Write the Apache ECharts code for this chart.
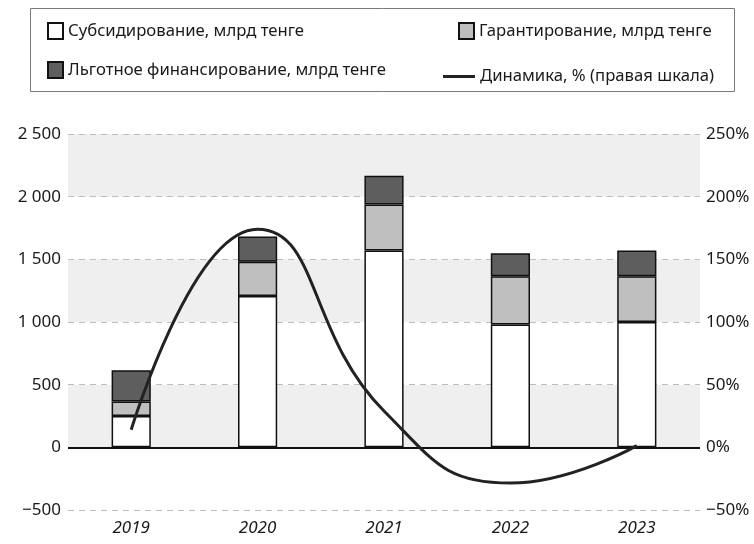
<!DOCTYPE html>
<html>
<head>
<meta charset="utf-8">
<script src="https://cdn.jsdelivr.net/npm/echarts@6/dist/echarts.min.js"></script>
<style>html,body{margin:0;padding:0;background:#fff;}#c{width:754px;height:544px;}</style>
</head>
<body>
<div id="c"></div>
<script>
var categories = ['2019', '2020', '2021', '2022', '2023'];
var subsidy = [250, 1207, 1570, 980, 1000];
var guarantee = [115, 274, 368, 386, 366];
var preferential = [250, 202, 229, 183, 205];
var dynamics = [14, 174, 29, -28.5, 1.4];
var leftTicks = { min: -500, max: 2500, interval: 500 };
var rightTicks = { min: -50, max: 250, interval: 50 };
var seriesNames = ['Субсидирование, млрд тенге', 'Гарантирование, млрд тенге', 'Льготное финансирование, млрд тенге', 'Динамика, % (правая шкала)'];

var FONT = 'Noto Sans';
var TXT = '#1a1a1a';
function fmtLeft(v) {
  var s = Math.abs(v).toString().replace(/\B(?=(\d{3})+(?!\d))/g, ' ');
  return (v < 0 ? '\u2212' : '') + s;
}
function fmtRight(v) {
  return (v < 0 ? '\u2212' : '') + Math.abs(v) + '%';
}
var legendText = { fontFamily: FONT, fontSize: 16.7, color: TXT };
function lg(name, left, top, w, h, icon) {
  return { data: [{ name: name, icon: icon || 'rect' }], left: left, top: top, itemWidth: w || 15, itemHeight: h || 16, itemGap: 5,
    textStyle: legendText, selectedMode: false, padding: 0 };
}
var barBase = { type: 'bar', stack: 'total', barWidth: '31%', yAxisIndex: 0 };
var chart = echarts.init(document.getElementById('c'), null, { renderer: 'canvas' });
chart.setOption({
  animation: false,
  backgroundColor: '#fff',
  graphic: [{ type: 'rect', shape: { x: 30.5, y: 8.5, width: 704, height: 83 },
    style: { fill: 'none', stroke: '#7a7a7a', lineWidth: 1 }, silent: true }],
  legend: [
    lg(seriesNames[0], 47, 22),
    lg(seriesNames[1], 458, 22),
    lg(seriesNames[2], 47, 61),
    lg(seriesNames[3], 443, 68, 32, 3, 'rect')
  ],
  grid: { left: 68, right: 54, top: 134, bottom: 34, containLabel: false },
  xAxis: {
    type: 'category', data: categories,
    axisLine: { show: false }, axisTick: { show: false },
    axisLabel: { fontFamily: FONT, fontSize: 17, fontStyle: 'italic', color: TXT, margin: 10 }
  },
  yAxis: [{
    type: 'value', min: leftTicks.min, max: leftTicks.max, interval: leftTicks.interval,
    axisLine: { show: false }, axisTick: { show: false },
    axisLabel: { fontFamily: FONT, fontSize: 17, color: TXT, margin: 7, formatter: fmtLeft },
    splitLine: { show: true, lineStyle: { color: '#bdbdbd', type: [6, 5], width: 1 } },
    splitArea: { show: true, areaStyle: { color: ['#ffffff', '#efefef'] } }
  }, {
    type: 'value', min: rightTicks.min, max: rightTicks.max, interval: rightTicks.interval,
    axisLine: { show: false }, axisTick: { show: false },
    axisLabel: { fontFamily: FONT, fontSize: 17, color: TXT, margin: 6, formatter: fmtRight },
    splitLine: { show: false }, splitArea: { show: false }
  }],
  series: [
    Object.assign({}, barBase, { name: seriesNames[0], data: subsidy,
      itemStyle: { color: '#ffffff', borderColor: '#111', borderWidth: 1.5 },
      markLine: { silent: true, symbol: 'none', label: { show: false },
        lineStyle: { color: '#111', type: 'solid', width: 2 }, data: [{ yAxis: 0 }] } }),
    Object.assign({}, barBase, { name: seriesNames[1], data: guarantee,
      itemStyle: { color: '#bfbfbf', borderColor: '#111', borderWidth: 1.5 } }),
    Object.assign({}, barBase, { name: seriesNames[2], data: preferential,
      itemStyle: { color: '#5e5e5e', borderColor: '#111', borderWidth: 1.5 } }),
    { type: 'line', name: seriesNames[3], yAxisIndex: 1, data: dynamics, smooth: 0.5,
      symbol: 'none', z: 5,
      lineStyle: { color: '#222', width: 3 }, itemStyle: { color: '#222', borderWidth: 0 } }
  ]
});
</script>
</body>
</html>
